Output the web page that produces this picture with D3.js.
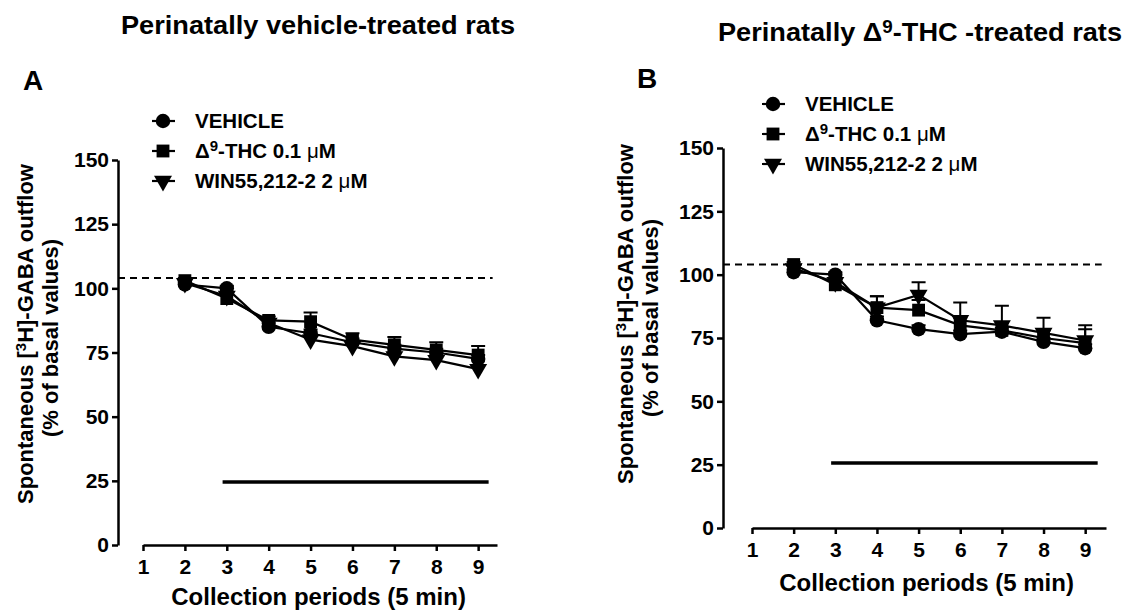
<!DOCTYPE html>
<html>
<head>
<meta charset="utf-8">
<script src="https://cdn.jsdelivr.net/npm/d3@7"></script>
<style>
  body { margin: 0; background: #fff; }
  text { font-family: "Liberation Sans", Arial, sans-serif; font-weight: bold; fill: #000; }
</style>
</head>
<body>
<div id="chart"></div>
<script>
(function() {
    'use strict';

    // collection periods with data
    var periods = [2, 3, 4, 5, 6, 7, 8, 9];
    var xTicks = [1, 2, 3, 4, 5, 6, 7, 8, 9];
    var yTicks = [0, 25, 50, 75, 100, 125, 150];

    // panel A - perinatally vehicle-treated rats
    var aVehicle    = [101.5, 100, 85, 82.5, 79, 76.5, 75, 72.5];
    var aVehicleErr = [1, 1, 1.5, 1.5, 1.5, 1.5, 1.5, 1.5];
    var aThc        = [103, 96, 87.5, 87, 80, 78, 76, 74];
    var aThcErr     = [1, 1.5, 1.5, 3.6, 2.5, 3, 3, 3.5];
    var aWin        = [102, 97, 86.5, 80, 77.5, 73.5, 72, 68.5];
    var aWinErr     = [1, 1.5, 1.5, 1.5, 1.5, 1.5, 1.5, 1.5];

    // panel B - perinatally delta9-THC-treated rats
    var bVehicle    = [101, 100, 82, 78.5, 76.5, 77.5, 73.5, 71];
    var bVehicleErr = [1, 1, 1.5, 1.5, 1.5, 1.5, 1.5, 1.5];
    var bThc        = [104, 96, 87, 86, 80, 78, 75, 73];
    var bThcErr     = [1, 1.5, 4.5, 4, 3, 3, 3, 5.5];
    var bWin        = [102.5, 97, 87, 92, 82, 80, 77, 74];
    var bWinErr     = [1, 1.5, 4.5, 5, 7, 7.7, 6, 6];

    var basal = 104;              // dashed reference (basal level)
    var aBar = [2.9, 9.25, 24.5]; // drug application bar: from, to, level
    var bBar = [2.9, 9.3, 25.7];

    var W = 1125, H = 611;
    var svg = d3.select('#chart').append('svg')
        .attr('width', W)
        .attr('height', H);

    function markerPath(kind) {
        if (kind === 'circle') return d3.symbol().type(d3.symbolCircle).size(165)();
        if (kind === 'square') return d3.symbol().type(d3.symbolSquare).size(165)();
        return d3.symbol().type(d3.symbolTriangle).size(140)();
    }
    function markerTransform(kind, x, y) {
        return 'translate(' + x + ',' + y + ')' + (kind === 'triangle' ? ' rotate(180)' : '');
    }

    function panel(cfg) {
        var x = d3.scaleLinear().domain([1, cfg.xEnd]).range(cfg.xRange);
        var y = d3.scaleLinear().domain([0, 150]).range(cfg.yRange);
        var g = svg.append('g');

        // title
        var t = g.append('text')
            .attr('x', cfg.titleX)
            .attr('y', cfg.titleY)
            .attr('textLength', cfg.titleW)
            .attr('lengthAdjust', 'spacingAndGlyphs')
            .style('font-size', '26px');
        cfg.title.forEach(function(p) {
            t.append('tspan')
                .attr('baseline-shift', p.sup ? '45%' : null)
                .style('font-size', p.sup ? '18px' : null)
                .text(p.t);
        });

        g.append('text')
            .attr('x', cfg.letterX)
            .attr('y', cfg.letterY)
            .style('font-size', '28px')
            .text(cfg.letter);

        // y axis
        var ya = g.append('g')
            .attr('transform', 'translate(' + cfg.yAxisX + ',0)')
            .call(d3.axisLeft(y).tickValues(yTicks).tickSize(6).tickSizeOuter(0).tickPadding(3));
        // x axis
        var xa = g.append('g')
            .attr('transform', 'translate(0,' + y(0) + ')')
            .call(d3.axisBottom(x).tickValues(xTicks).tickSize(6).tickSizeOuter(0).tickPadding(8));
        [ya, xa].forEach(function(a) {
            a.selectAll('path, line').attr('stroke', '#000').attr('stroke-width', 2.5);
            a.selectAll('text')
                .style('font-size', '21px')
                .style('font-family', '"Liberation Sans", Arial, sans-serif')
                .style('font-weight', 'bold')
                .attr('fill', '#000');
        });

        g.append('text')
            .attr('x', (x(1) + x(9)) / 2 + cfg.xTitleShift)
            .attr('y', cfg.xTitleY)
            .attr('text-anchor', 'middle')
            .style('font-size', '24px')
            .text('Collection periods (5 min)');

        // y title (two lines, rotated)
        var yt = g.append('text')
            .attr('transform', 'translate(' + cfg.yTitleX + ',' + cfg.yTitleY + ') rotate(-90)')
            .attr('text-anchor', 'middle')
            .style('font-size', '22px');
        yt.append('tspan').text('Spontaneous [');
        yt.append('tspan').attr('baseline-shift', '45%').style('font-size', '15px').text('3');
        yt.append('tspan').text('H]-GABA outflow');
        g.append('text')
            .attr('transform', 'translate(' + (cfg.yTitleX + 25) + ',' + (cfg.yTitleY + 4) + ') rotate(-90)')
            .attr('text-anchor', 'middle')
            .style('font-size', '22px')
            .text('(% of basal values)');

        // dashed basal line
        g.append('line')
            .attr('x1', cfg.yAxisX).attr('x2', x(cfg.bar[1]) + 4)
            .attr('y1', y(basal)).attr('y2', y(basal))
            .attr('stroke', '#000').attr('stroke-width', 2)
            .attr('stroke-dasharray', '7,5');

        // drug application bar
        g.append('line')
            .attr('x1', x(cfg.bar[0])).attr('x2', x(cfg.bar[1]))
            .attr('y1', y(cfg.bar[2])).attr('y2', y(cfg.bar[2]))
            .attr('stroke', '#000').attr('stroke-width', 3.5);

        var line = d3.line().x(function(d) { return x(d[0]); }).y(function(d) { return y(d[1]); });

        cfg.series.forEach(function(s) {
            var pts = periods.map(function(p, i) { return [p, s.values[i], s.err[i]]; });
            var sg = g.append('g');
            // error bars (upper half, capped)
            sg.selectAll('path.err').data(pts).enter().append('path')
                .attr('class', 'err')
                .attr('fill', 'none').attr('stroke', '#000').attr('stroke-width', 2)
                .attr('d', function(d) {
                    var cx = x(d[0]), hi = y(d[1] + d[2]), lo = y(d[1]);
                    return 'M' + cx + ',' + lo + 'V' + hi + 'M' + (cx - 7) + ',' + hi + 'H' + (cx + 7);
                });
            sg.append('path')
                .attr('d', line(pts))
                .attr('fill', 'none').attr('stroke', '#000').attr('stroke-width', 2.2);
            sg.selectAll('path.m').data(pts).enter().append('path')
                .attr('class', 'm')
                .attr('d', markerPath(s.kind))
                .attr('transform', function(d) { return markerTransform(s.kind, x(d[0]), y(d[1])); })
                .attr('fill', '#000');
        });

        // legend
        cfg.series.forEach(function(s, i) {
            var ly = cfg.legendY + i * 30;
            g.append('line')
                .attr('x1', cfg.legendX - 11).attr('x2', cfg.legendX + 12)
                .attr('y1', ly).attr('y2', ly)
                .attr('stroke', '#000').attr('stroke-width', 2.2);
            g.append('path')
                .attr('d', markerPath(s.kind))
                .attr('transform', markerTransform(s.kind, cfg.legendX, ly))
                .attr('fill', '#000');
            var lt = g.append('text')
                .attr('x', cfg.legendX + 32)
                .attr('y', ly + 7)
                .style('font-size', '20.5px');
            s.label.forEach(function(p) {
                lt.append('tspan')
                    .attr('baseline-shift', p.sup ? '45%' : null)
                    .style('font-size', p.sup ? '15px' : null)
                    .style('font-weight', p.mu ? 'normal' : null)
                    .text(p.t);
            });
        });
    }

    var labels = [
        [{t: 'VEHICLE'}],
        [{t: 'Δ'}, {t: '9', sup: true}, {t: '-THC 0.1  '}, {t: 'μ', mu: true}, {t: 'M'}],
        [{t: 'WIN55,212-2 2  '}, {t: 'μ', mu: true}, {t: 'M'}]
    ];
    var kinds = ['circle', 'square', 'triangle'];

    panel({
        title: [{t: 'Perinatally vehicle-treated rats'}],
        titleX: 121, titleY: 34, titleW: 394,
        letter: 'A', letterX: 23, letterY: 90,
        xEnd: 9.45, xRange: [143, 497], yRange: [545, 160],
        yAxisX: 118,
        xTitleY: 605, xTitleShift: 8,
        yTitleX: 33, yTitleY: 334,
        bar: aBar,
        legendX: 163, legendY: 121,
        series: [
            {kind: kinds[0], label: labels[0], values: aVehicle, err: aVehicleErr},
            {kind: kinds[1], label: labels[1], values: aThc, err: aThcErr},
            {kind: kinds[2], label: labels[2], values: aWin, err: aWinErr}
        ]
    });

    panel({
        title: [{t: 'Perinatally '}, {t: 'Δ'}, {t: '9', sup: true}, {t: '-THC -treated rats'}],
        titleX: 718, titleY: 41, titleW: 404,
        letter: 'B', letterX: 637, letterY: 88,
        xEnd: 9.5, xRange: [752, 1106], yRange: [528, 148],
        yAxisX: 723,
        xTitleY: 591, xTitleShift: 8,
        yTitleX: 633, yTitleY: 314,
        bar: bBar,
        legendX: 773, legendY: 104,
        series: [
            {kind: kinds[0], label: labels[0], values: bVehicle, err: bVehicleErr},
            {kind: kinds[1], label: labels[1], values: bThc, err: bThcErr},
            {kind: kinds[2], label: labels[2], values: bWin, err: bWinErr}
        ]
    });
}());
</script>
</body>
</html>
